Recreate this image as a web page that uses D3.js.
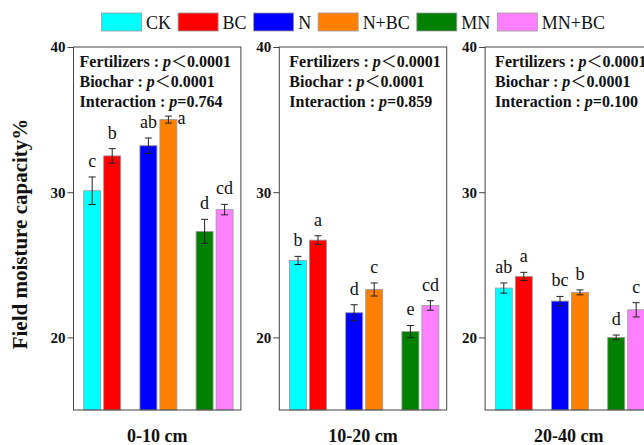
<!DOCTYPE html>
<html>
<head>
<meta charset="utf-8">
<script src="https://cdn.jsdelivr.net/npm/d3@7"></script>
<style>
  html, body { margin: 0; padding: 0; background: #fff; }
  svg { display: block; }
  svg text { font-family: "Liberation Serif", "Tinos", "Times New Roman", "Nimbus Roman", "DejaVu Serif", serif; }
  svg text tspan.lt { font-family: "Noto Sans CJK SC", "Noto Sans CJK JP", sans-serif; font-weight: normal; }
</style>
</head>
<body>
<script>
// Treatments and their fill colours
const treatments = ["CK", "BC", "N", "N+BC", "MN", "MN+BC"];
const colors = ["#00FFFF", "#FF0000", "#0000FF", "#FF8000", "#008000", "#FF80FF"];
const fertilizerGroups = ["None", "N", "MN"];

// Soil depth layers
const depths = ["0-10 cm", "10-20 cm", "20-40 cm"];

// Mean field moisture capacity (%) per treatment, one array per depth
const means0_10 = [30.1, 32.5, 33.2, 35.0, 27.3, 28.8];
const means10_20 = [25.3, 26.7, 21.7, 23.3, 20.4, 22.2];
const means20_40 = [23.4, 24.2, 22.5, 23.1, 20.0, 21.9];

// Standard errors
const se0_10 = [0.95, 0.5, 0.53, 0.24, 0.83, 0.36];
const se10_20 = [0.28, 0.3, 0.55, 0.45, 0.42, 0.33];
const se20_40 = [0.35, 0.28, 0.32, 0.17, 0.16, 0.49];

// Significance letters
const letters0_10 = ["c", "b", "ab", "a", "d", "cd"];
const letters10_20 = ["b", "a", "d", "c", "e", "cd"];
const letters20_40 = ["ab", "a", "bc", "b", "d", "c"];

// Two-way ANOVA p-values
const pFertilizers = ["<0.0001", "<0.0001", "<0.0001"];
const pBiochar = ["<0.0001", "<0.0001", "<0.0001"];
const pInteraction = ["=0.764", "=0.859", "=0.100"];

// Y axis ticks
const yTicks = [20, 30, 40];
const yDomain = [15, 40];

const meansByDepth = [means0_10, means10_20, means20_40];
const seByDepth = [se0_10, se10_20, se20_40];
const lettersByDepth = [letters0_10, letters10_20, letters20_40];

const W = 644, H = 445;

const svg = d3.select("body").append("svg")
  .attr("width", W).attr("height", H)
  .attr("viewBox", `0 0 ${W} ${H}`);
svg.append("rect").attr("width", W).attr("height", H).attr("fill", "#fff");

const plotTop = 47, plotBottom = 410;
const y = d3.scaleLinear().domain(yDomain).range([plotBottom, plotTop]);

// Panels side by side
const panelX = d3.scaleBand().domain(depths).range([73.5, 652.5]).paddingInner(0.1866);
const pw = panelX.bandwidth();

// Fertilizer groups inside a panel, and the without/with biochar pair in each group
const groupX = d3.scaleBand().domain(fertilizerGroups).range([0.6, 169.2]);
const pairX = d3.scaleBand().domain([0, 1]).range([-18.5, 18.5]).paddingInner(0.15);

depths.forEach((depth, i) => {
  const px = panelX(depth);
  const g = svg.append("g").attr("transform", `translate(${px},0)`);

  const rows = treatments.map((t, k) => ({
    t, k,
    mean: meansByDepth[i][k],
    se: seByDepth[i][k],
    letter: lettersByDepth[i][k],
    group: fertilizerGroups[Math.floor(k / 2)],
    bc: k % 2
  }));
  const barX = d => groupX(d.group) + groupX.bandwidth() / 2 + pairX(d.bc);

  // Bars
  g.selectAll("rect.bar").data(rows).join("rect")
    .attr("class", "bar")
    .attr("x", barX)
    .attr("width", pairX.bandwidth())
    .attr("y", d => y(d.mean))
    .attr("height", d => y(yDomain[0]) - y(d.mean))
    .attr("fill", d => colors[d.k])
    .attr("stroke", "#9a9a9a")
    .attr("stroke-width", 0.8);

  // Error bars
  const eb = g.selectAll("g.err").data(rows).join("g").attr("class", "err")
    .attr("stroke", "#222").attr("stroke-width", 1);
  const cx = d => barX(d) + pairX.bandwidth() / 2;
  eb.append("line")
    .attr("x1", cx).attr("x2", cx)
    .attr("y1", d => y(d.mean - d.se)).attr("y2", d => y(d.mean + d.se));
  [-1, 1].forEach(s => {
    eb.append("line")
      .attr("x1", d => cx(d) - 3.5).attr("x2", d => cx(d) + 3.5)
      .attr("y1", d => y(d.mean + s * d.se)).attr("y2", d => y(d.mean + s * d.se));
  });

  // Significance letters: above the error bar, or beside the bar if that would hit the ANOVA note
  const noteBottom = 112;
  g.selectAll("text.letter").data(rows).join("text")
    .attr("class", "letter")
    .attr("font-size", 18)
    .attr("fill", "#111")
    .each(function(d) {
      const yt = y(d.mean + d.se);
      const sel = d3.select(this).text(d.letter);
      if (yt - 10 - 13 < noteBottom) {
        sel.attr("x", barX(d) + pairX.bandwidth() + 0.5).attr("y", yt + 8).attr("text-anchor", "start");
      } else {
        sel.attr("x", cx(d)).attr("y", yt - 10).attr("text-anchor", "middle");
      }
    });

  // Frame
  g.append("rect")
    .attr("x", 0).attr("y", plotTop)
    .attr("width", pw).attr("height", plotBottom - plotTop)
    .attr("fill", "none").attr("stroke", "#444").attr("stroke-width", 1);

  // Y axis
  const ax = g.append("g")
    .call(d3.axisLeft(y).tickValues(yTicks).tickSize(6).tickPadding(2).tickFormat(d3.format("d")));
  ax.attr("font-family", null);
  ax.select(".domain").remove();
  ax.selectAll(".tick line").attr("stroke", "#444");
  ax.selectAll(".tick text")
    .attr("font-size", 15).attr("font-weight", "bold").attr("fill", "#111");

  // ANOVA note
  const noteDx = i === 0 ? 6 : 10;
  const notes = [["Fertilizers : ", pFertilizers[i]], ["Biochar : ", pBiochar[i]], ["Interaction : ", pInteraction[i]]];
  notes.forEach(([label, p], r) => {
    const t = g.append("text")
      .attr("x", noteDx).attr("y", 66.7 + r * 20)
      .attr("font-size", 16).attr("font-weight", "bold").attr("fill", "#111");
    t.append("tspan").text(label);
    t.append("tspan").attr("font-style", "italic").text("p");
    if (p[0] === "<") {
      t.append("tspan").attr("class", "lt").text("\uFF1C");
      t.append("tspan").text(p.slice(1));
    } else {
      t.append("tspan").text(p);
    }
  });

  // Depth label
  g.append("text")
    .attr("x", pw / 2).attr("y", 442)
    .attr("text-anchor", "middle")
    .attr("font-size", 18).attr("font-weight", "bold").attr("fill", "#111")
    .text(depth);
});

// Y axis title
svg.append("text")
  .attr("transform", "translate(20,234) rotate(-90)")
  .attr("text-anchor", "middle")
  .attr("dominant-baseline", "central")
  .attr("font-size", 21).attr("font-weight", "bold").attr("fill", "#111")
  .text("Field moisture capacity%");

// Legend
const legend = svg.append("g");
let lx = 101.6;
treatments.forEach((t, k) => {
  legend.append("rect")
    .attr("x", lx).attr("y", 13).attr("width", 40).attr("height", 18)
    .attr("fill", colors[k]).attr("stroke", "#9a9a9a").attr("stroke-width", 0.8);
  const txt = legend.append("text")
    .attr("x", lx + 44.5).attr("y", 28.5)
    .attr("font-size", 18).attr("fill", "#111")
    .text(t);
  lx = lx + 44.5 + txt.node().getComputedTextLength() + 7;
});
</script>
</body>
</html>
